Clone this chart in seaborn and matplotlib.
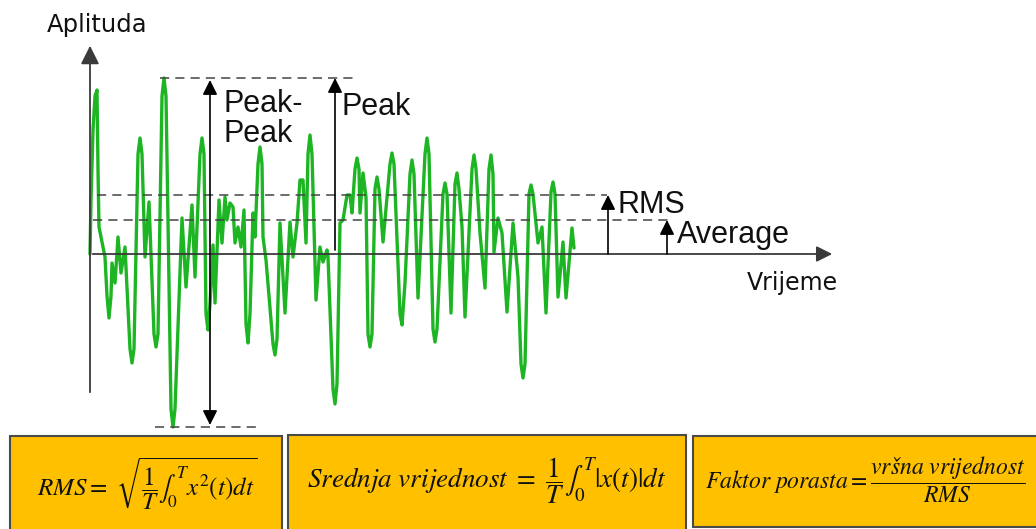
import numpy as np
import pandas as pd
import seaborn as sns
import matplotlib.pyplot as plt
from matplotlib.patches import Rectangle

# signal (time, amplitude)
time = [0, 1, 3, 5, 7, 8, 9, 15, 17, 19, 21, 22, 25, 28, 31, 35, 40, 42, 44, 48,
        50, 52, 55, 59, 64, 66, 68, 72, 74, 76, 81, 83, 85, 92, 96, 102, 105, 110, 112, 114,
        116, 118, 120, 123, 125, 129, 132, 135, 137, 140, 143, 145, 148, 151, 154, 156, 158, 160, 163, 165,
        168, 170, 172, 173, 176, 183, 185, 187, 190, 195, 200, 203, 207, 210, 213, 216, 218, 220, 222, 226,
        230, 233, 237, 238, 243, 245, 247, 250, 253, 257, 260, 262, 265, 267, 269, 270, 273, 276, 278, 280,
        282, 285, 287, 289, 293, 300, 302, 304, 310, 312, 315, 320, 322, 324, 328, 335, 337, 339, 343, 345,
        347, 353, 355, 357, 361, 365, 367, 369, 372, 375, 379, 382, 384, 386, 390, 395, 399, 401, 403, 404,
        408, 412, 417, 423, 428, 431, 433, 435, 439, 441, 443, 448, 452, 456, 461, 463, 465, 468, 473, 476,
        482, 484]
amplitude = [0, 54, 124, 158, 164, 84, 27, -3, -42, -64, -42, -9, -29, 17, -19, 7, -95, -109, -95, 100,
             116, 100, -3, 52, -80, -93, -80, 158, 176, 158, -155, -173, -155, 36, -33, 49, -23, 100, 116, 100,
             -60, -76, -50, 9, -49, 54, 11, 57, 34, 51, 47, 11, 27, 7, 44, -70, -89, -60, 41, 17,
             90, 107, 90, 17, -6, -90, -101, -85, 31, -59, 32, -3, 31, 74, 74, 11, 100, 119, 100, -46,
             7, -8, 4, -3, -135, -150, -130, 31, 34, 59, 59, 41, 85, 96, 85, 41, 81, 57, -80, -93,
             -80, 65, 77, 65, 12, 90, 101, 90, -60, -71, -29, 80, 94, 80, -44, 100, 116, 100, -75, -88,
             -75, 60, 71, 60, -59, 70, 81, 65, 27, -63, 21, 85, 99, 85, 21, -34, 85, 99, 80, 2,
             36, 21, -58, 31, -23, -110, -124, -110, 60, 69, 60, 11, 27, -59, 62, 72, 60, -43, 12, -44,
             26, 6]
rms_level = 59
avg_level = 34

df = pd.DataFrame({'t': time, 'x': amplitude})
peak = df['x'].max()
trough = df['x'].min()

sns.set_style('white')
plt.rcParams['font.family'] = ['DejaVu Sans']
plt.rcParams['mathtext.fontset'] = 'stix'

W, H = 1036, 529
fig = plt.figure(figsize=(W / 100, H / 100), dpi=100)
ax = fig.add_axes([0, 0, 1, 1])
ax.set_xlim(-90, W - 90)
ax.set_ylim(254 - H, 254)
ax.axis('off')

sns.lineplot(data=df, x='t', y='x', ax=ax, color='#1DB523', lw=2.4,
             estimator=None, sort=False, solid_joinstyle='round')

axis_c = '#3a3a3a'
# axes with arrows
ax.annotate('', xy=(0, 211), xytext=(0, -141),
            arrowprops=dict(arrowstyle='-|>', color=axis_c, lw=1.3, mutation_scale=28))
ax.annotate('', xy=(745, 0), xytext=(0, 0),
            arrowprops=dict(arrowstyle='-|>', color=axis_c, lw=1.3, mutation_scale=24))
ax.text(-43, 222, 'Aplituda', fontsize=17.5, color='#111')
ax.text(657, -36, 'Vrijeme', fontsize=17, color='#111')

# dashed reference levels
dash = dict(color='#444', lw=1.1, ls=(0, (6, 4)))
ax.plot([70, 268], [peak, peak], **dash)
ax.plot([65, 168], [trough, trough], **dash)
ax.plot([7, 517], [rms_level, rms_level], **dash)
ax.plot([3, 583], [avg_level, avg_level], **dash)

arr = dict(color='black', lw=1.2, mutation_scale=22, shrinkA=0, shrinkB=0)
ax.annotate('', xy=(120, peak - 2), xytext=(120, trough + 2),
            arrowprops=dict(arrowstyle='<|-|>', **arr))
ax.annotate('', xy=(245, peak), xytext=(245, 4),
            arrowprops=dict(arrowstyle='-|>', **arr))
ax.annotate('', xy=(518, rms_level), xytext=(518, 0),
            arrowprops=dict(arrowstyle='-|>', **arr))
ax.annotate('', xy=(577, avg_level), xytext=(577, 0),
            arrowprops=dict(arrowstyle='-|>', **arr))

lab = dict(fontsize=22, family='Liberation Sans', color='#111')
ax.text(133, 142, 'Peak-', **lab)
ax.text(133, 112, 'Peak', **lab)
ax.text(252, 139, 'Peak', **lab)
ax.text(528, 41, 'RMS', **lab)
ax.text(587, 11, 'Average', **lab)

# formula boxes (pixel layout -> figure fractions)
def fx(px):
    return px / W

def fy(py):
    return 1 - py / H

boxes = [(10, 436, 282, 535), (288, 435, 686, 535), (693, 436, 1040, 527)]
for x0, y0, x1, y1 in boxes:
    fig.patches.append(Rectangle((fx(x0), fy(y1)), fx(x1) - fx(x0), fy(y0) - fy(y1),
                                 transform=fig.transFigure, facecolor='#FFC000',
                                 edgecolor='#4a4a4a', lw=1.5))

formulas = [
    (147, 484, 18, r'$RMS=\ \sqrt{\dfrac{1}{T}\int_0^T x^2(t)dt}$'),
    (487, 481, 19.5, r'$Srednja\ vrijednost\ =\ \dfrac{1}{T}\int_0^T |x(t)|dt$'),
    (865, 480, 17, r'$Faktor\ porasta=\dfrac{vršna\ vrijednost}{RMS}$'),
]
for px, py, size, s in formulas:
    fig.text(fx(px), fy(py), s, fontsize=size, ha='center', va='center', color='#111')

fig.savefig('out.png', dpi=100)
